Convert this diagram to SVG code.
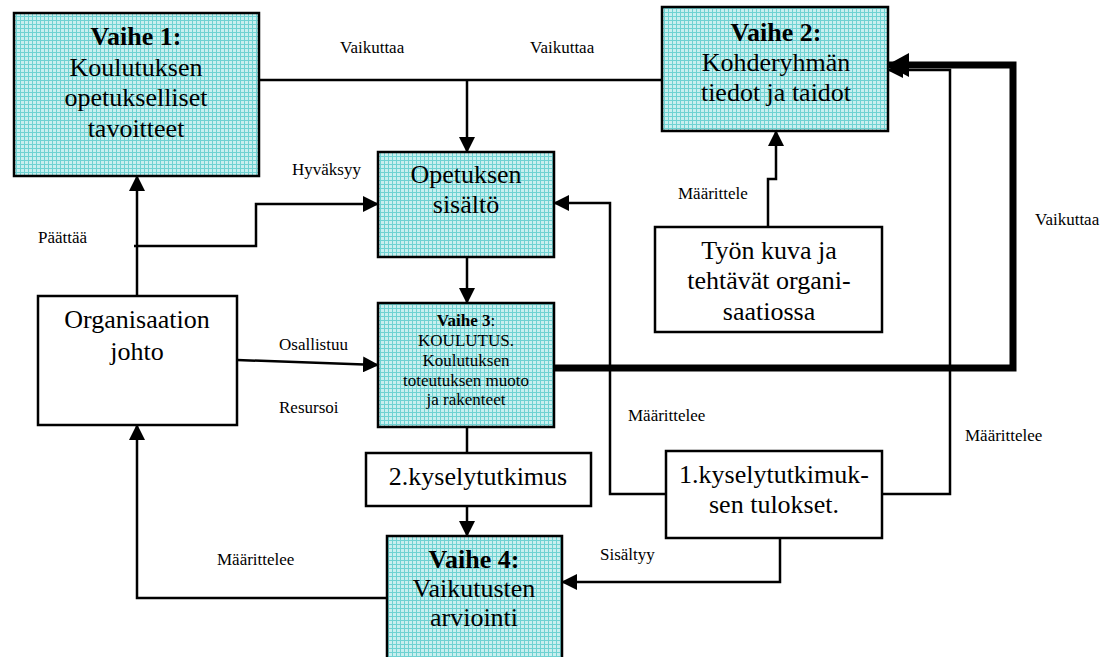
<svg xmlns="http://www.w3.org/2000/svg" width="1117" height="657" viewBox="0 0 1117 657" font-family="'Liberation Serif', 'Times New Roman', serif">
  <defs>
    <pattern id="mesh" width="4" height="4" patternUnits="userSpaceOnUse">
      <rect width="4" height="4" fill="#c9efef"/>
      <path d="M0,0.5 H4 M0.5,0 V4" stroke="#6fd2d2" stroke-width="1"/>
    </pattern>
    <marker id="arr" markerUnits="userSpaceOnUse" markerWidth="16" markerHeight="16" viewBox="0 0 16 16" refX="15" refY="8" orient="auto">
      <path d="M0,0 L16,8 L0,16 Z" fill="#000"/>
    </marker>
    <marker id="arrBig" markerUnits="userSpaceOnUse" markerWidth="22" markerHeight="24" viewBox="0 0 22 24" refX="21" refY="12" orient="auto">
      <path d="M0,0 L22,12 L0,24 Z" fill="#000"/>
    </marker>
  </defs>
  <style>
    .phase { fill: url(#mesh); stroke: #000; stroke-width: 2.5; }
    .plain { fill: #fff; stroke: #000; stroke-width: 2.5; }
    text { font-family: "Liberation Serif", "Times New Roman", serif; fill: #000; }
    .big { font-size: 26px; text-anchor: middle; }
    .small { font-size: 17px; text-anchor: middle; }
    .lbl { font-size: 17px; }
    .b { font-weight: bold; }
    .wire { fill: none; stroke: #000; stroke-width: 2.5; }
    .thick { fill: none; stroke: #000; stroke-width: 7; }
  </style>

  <!-- connectors -->
  <g id="connectors">
    <path class="wire" d="M256,80 H662"/>
    <path class="wire" d="M467,80 V152" marker-end="url(#arr)"/>
    <path class="wire" d="M137,296 V176" marker-end="url(#arr)"/>
    <path class="wire" d="M134,246 H256 V204 H378" marker-end="url(#arr)"/>
    <path class="wire" d="M237,360 L378,365" marker-end="url(#arr)"/>
    <path class="wire" d="M467,257 V303" marker-end="url(#arr)"/>
    <path class="wire" d="M467,427 V453"/>
    <path class="wire" d="M467,506 V536" marker-end="url(#arr)"/>
    <path class="wire" d="M387,598 H137 V425" marker-end="url(#arr)"/>
    <path class="wire" d="M768,227 V179 H776 V131" marker-end="url(#arr)"/>
    <path class="wire" d="M666,494 H610 V203 H554" marker-end="url(#arr)"/>
    <path class="wire" d="M882,494 H950 V70 H888" marker-end="url(#arr)"/>
    <path class="wire" d="M780,538 V582 H562" marker-end="url(#arr)"/>
    <path class="thick" d="M554,368 H1013 V65 H888" marker-end="url(#arrBig)"/>

    <text class="lbl" x="340" y="53">Vaikuttaa</text>
    <text class="lbl" x="530" y="53">Vaikuttaa</text>
    <text class="lbl" x="292" y="175">Hyväksyy</text>
    <text class="lbl" x="38" y="243">Päättää</text>
    <text class="lbl" x="678" y="199">Määrittele</text>
    <text class="lbl" x="1035" y="225">Vaikuttaa</text>
    <text class="lbl" x="279" y="350">Osallistuu</text>
    <text class="lbl" x="279" y="413">Resursoi</text>
    <text class="lbl" x="628" y="421">Määrittelee</text>
    <text class="lbl" x="965" y="441">Määrittelee</text>
    <text class="lbl" x="600" y="560">Sisältyy</text>
    <text class="lbl" x="217" y="565">Määrittelee</text>
  </g>

  <g id="vaihe1">
    <rect class="phase" x="14" y="13" width="245" height="163"/>
    <text class="big b" x="136" y="45">Vaihe 1:</text>
    <text class="big" x="136" y="76">Koulutuksen</text>
    <text class="big" x="136" y="106">opetukselliset</text>
    <text class="big" x="136" y="137">tavoitteet</text>
  </g>

  <g id="vaihe2">
    <rect class="phase" x="662" y="7" width="226" height="124"/>
    <text class="big b" x="776" y="41">Vaihe 2:</text>
    <text class="big" x="776" y="71">Kohderyhmän</text>
    <text class="big" x="776" y="101">tiedot ja taidot</text>
  </g>

  <g id="opetuksen-sisalto">
    <rect class="phase" x="378" y="152" width="176" height="105"/>
    <text class="big" x="466" y="183">Opetuksen</text>
    <text class="big" x="466" y="213">sisältö</text>
  </g>

  <g id="vaihe3">
    <rect class="phase" x="378" y="303" width="176" height="124"/>
    <text class="small" x="466" y="326"><tspan class="b">Vaihe 3</tspan>:</text>
    <text class="small" x="466" y="346">KOULUTUS.</text>
    <text class="small" x="466" y="366">Koulutuksen</text>
    <text class="small" x="466" y="386">toteutuksen muoto</text>
    <text class="small" x="466" y="405">ja rakenteet</text>
  </g>

  <g id="organisaation-johto">
    <rect class="plain" x="38" y="296" width="199" height="129"/>
    <text class="big" x="137" y="328">Organisaation</text>
    <text class="big" x="137" y="360">johto</text>
  </g>

  <g id="tyon-kuva">
    <rect class="plain" x="655" y="227" width="227" height="105"/>
    <text class="big" x="769" y="259">Työn kuva ja</text>
    <text class="big" x="769" y="289">tehtävät organi-</text>
    <text class="big" x="769" y="320">saatiossa</text>
  </g>

  <g id="kysely2">
    <rect class="plain" x="366" y="453" width="225" height="53"/>
    <text class="big" x="478" y="485">2.kyselytutkimus</text>
  </g>

  <g id="kysely1">
    <rect class="plain" x="666" y="451" width="216" height="87"/>
    <text class="big" x="774" y="483">1.kyselytutkimuk-</text>
    <text class="big" x="774" y="513">sen tulokset.</text>
  </g>

  <g id="vaihe4">
    <rect class="phase" x="387" y="536" width="175" height="130"/>
    <text class="big b" x="474" y="568">Vaihe 4:</text>
    <text class="big" x="474" y="597">Vaikutusten</text>
    <text class="big" x="474" y="626">arviointi</text>
  </g>
</svg>
